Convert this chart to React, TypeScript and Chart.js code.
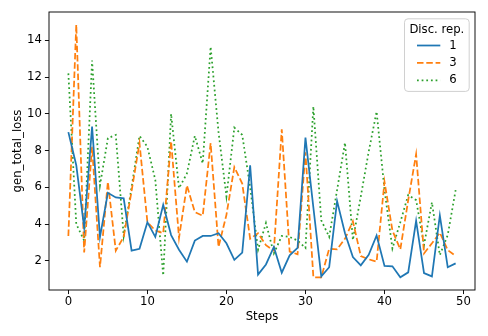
import React, { useEffect, useRef } from "react";
import { Chart, registerables } from "chart.js";

Chart.register(...registerables);

const steps: number[] = Array.from({ length: 50 }, (_, i) => i);

const rep1: number[] = [9.0, 7.2, 3.8, 9.3, 3.3, 5.7, 5.45, 5.4, 2.55, 2.65, 4.1, 3.3, 5.05, 3.4, 2.6, 1.95, 3.1, 3.35, 3.35, 3.5, 2.95, 2.05, 2.45, 7.2, 1.25, 1.8, 2.75, 1.35, 2.3, 2.7, 8.7, 4.9, 1.15, 1.65, 5.25, 3.5, 2.2, 1.75, 2.33, 3.38, 1.72, 1.7, 1.1, 1.37, 4.17, 1.33, 1.15, 4.47, 1.65, 1.86];
const rep3: number[] = [3.35, 14.85, 2.45, 8.2, 1.65, 6.3, 2.55, 3.3, 5.8, 8.4, 4.1, 3.65, 3.5, 8.5, 3.25, 6.1, 4.65, 4.45, 8.4, 2.75, 4.5, 7.1, 6.2, 3.2, 3.5, 2.85, 2.55, 9.15, 2.5, 2.35, 7.9, 1.1, 1.1, 2.65, 2.62, 3.2, 4.15, 2.26, 2.08, 1.95, 6.3, 3.65, 2.62, 5.3, 7.8, 2.4, 2.95, 3.53, 2.58, 2.26];
const rep6: number[] = [12.2, 4.0, 3.1, 12.9, 6.1, 8.67, 8.85, 3.35, 6.0, 8.8, 8.2, 6.4, 1.2, 10.0, 5.95, 6.75, 8.8, 7.3, 13.65, 9.0, 5.5, 9.25, 8.85, 6.0, 2.6, 4.05, 2.4, 3.35, 3.3, 3.1, 2.7, 10.4, 4.2, 3.3, 5.85, 8.43, 3.13, 5.5, 7.94, 10.12, 5.85, 2.67, 4.1, 5.58, 5.3, 2.86, 5.18, 2.31, 3.4, 5.85];

const seriesLabels: string[] = ["1", "3", "6"];
const xTicks: number[] = [0, 10, 20, 30, 40, 50];
const yTicks: number[] = [2, 4, 6, 8, 10, 12, 14];

const FONT = "DejaVu Sans";
const FS = 11.67;
const LW = 1.75;
const colors = ["#1f77b4", "#ff7f0e", "#2ca02c"];
const dashes = [[], [6.5, 2.8], [1.75, 2.9]];

const framePlugin = {
  id: "frameAndLegend",
  afterDraw(chart: any) {
    const { ctx, chartArea } = chart;
    const { left, right, top, bottom } = chartArea;
    ctx.save();
    ctx.strokeStyle = "#000";
    ctx.lineWidth = 0.93;
    ctx.setLineDash([]);
    ctx.strokeRect(left, top, right - left, bottom - top);

    // legend box
    const bx = 404.5, by = 18.8, bw = 64.7, bh = 72.6;
    const r = 3.5;
    ctx.beginPath();
    ctx.moveTo(bx + r, by);
    ctx.lineTo(bx + bw - r, by);
    ctx.quadraticCurveTo(bx + bw, by, bx + bw, by + r);
    ctx.lineTo(bx + bw, by + bh - r);
    ctx.quadraticCurveTo(bx + bw, by + bh, bx + bw - r, by + bh);
    ctx.lineTo(bx + r, by + bh);
    ctx.quadraticCurveTo(bx, by + bh, bx, by + bh - r);
    ctx.lineTo(bx, by + r);
    ctx.quadraticCurveTo(bx, by, bx + r, by);
    ctx.closePath();
    ctx.fillStyle = "rgba(255,255,255,0.8)";
    ctx.fill();
    ctx.strokeStyle = "#cccccc";
    ctx.lineWidth = 0.93;
    ctx.stroke();

    ctx.fillStyle = "#000";
    ctx.font = `${FS}px "${FONT}"`;
    ctx.textBaseline = "middle";
    ctx.textAlign = "center";
    ctx.fillText("Disc. rep.", bx + bw / 2, 29.5);
    const ys = [45.5, 62.8, 80.3];
    seriesLabels.forEach((lab, i) => {
      ctx.beginPath();
      ctx.strokeStyle = colors[i];
      ctx.lineWidth = LW;
      ctx.setLineDash(dashes[i]);
      ctx.moveTo(417, ys[i]);
      ctx.lineTo(440.3, ys[i]);
      ctx.stroke();
      ctx.setLineDash([]);
      ctx.fillStyle = "#000";
      ctx.textAlign = "left";
      ctx.fillText(lab, 449.3, ys[i]);
    });
    ctx.restore();
  },
};

export default function App() {
  const ref = useRef<HTMLCanvasElement | null>(null);
  useEffect(() => {
    if (!ref.current) return;
    const mk = (vals: number[], i: number) => ({
      label: seriesLabels[i],
      data: vals.map((v, k) => ({ x: steps[k], y: v })),
      borderColor: colors[i],
      backgroundColor: colors[i],
      borderWidth: LW,
      borderDash: dashes[i],
      pointRadius: 0,
      tension: 0,
      fill: false,
    });
    const chart = new Chart(ref.current, {
      type: "line",
      data: { datasets: [mk(rep1, 0), mk(rep3, 1), mk(rep6, 2)] },
      options: {
        animation: false,
        responsive: false,
        devicePixelRatio: 1,
        layout: { padding: { top: 12, right: 13, left: 0, bottom: 0 } },
        plugins: { legend: { display: false }, tooltip: { enabled: false } },
        scales: {
          x: {
            type: "linear",
            min: -2.45,
            max: 51.45,
            afterBuildTicks: (s: any) => { s.ticks = xTicks.map((v) => ({ value: v })); },
            afterFit: (s: any) => { s.height = 46; },
            grid: { display: true, drawOnChartArea: false, drawTicks: true, tickLength: 4.08, tickColor: "#000", lineWidth: 0.93 },
            border: { display: false },
            ticks: { color: "#000", font: { family: FONT, size: FS }, padding: 1.3, maxRotation: 0, autoSkip: false },
            title: { display: true, text: "Steps", color: "#000", font: { family: FONT, size: FS }, padding: { top: 0, bottom: 12.3 } },
          },
          y: {
            type: "linear",
            min: 0.41,
            max: 15.54,
            afterBuildTicks: (s: any) => { s.ticks = yTicks.map((v) => ({ value: v })); },
            afterFit: (s: any) => { s.width = 49; },
            grid: { display: true, drawOnChartArea: false, drawTicks: true, tickLength: 4.08, tickColor: "#000", lineWidth: 0.93 },
            border: { display: false },
            ticks: { color: "#000", font: { family: FONT, size: FS }, padding: 3, autoSkip: false },
            title: { display: true, text: "gen_total_loss", color: "#000", font: { family: FONT, size: FS }, padding: { top: 11.3, bottom: 0 } },
          },
        },
      },
      plugins: [framePlugin],
    });
    return () => chart.destroy();
  }, []);
  return (
    <div style={{ position: "fixed", left: 0, top: 0, width: 488, height: 336, background: "#fff" }}>
      <canvas ref={ref} width={488} height={336} style={{ width: 488, height: 336 }} />
    </div>
  );
}
